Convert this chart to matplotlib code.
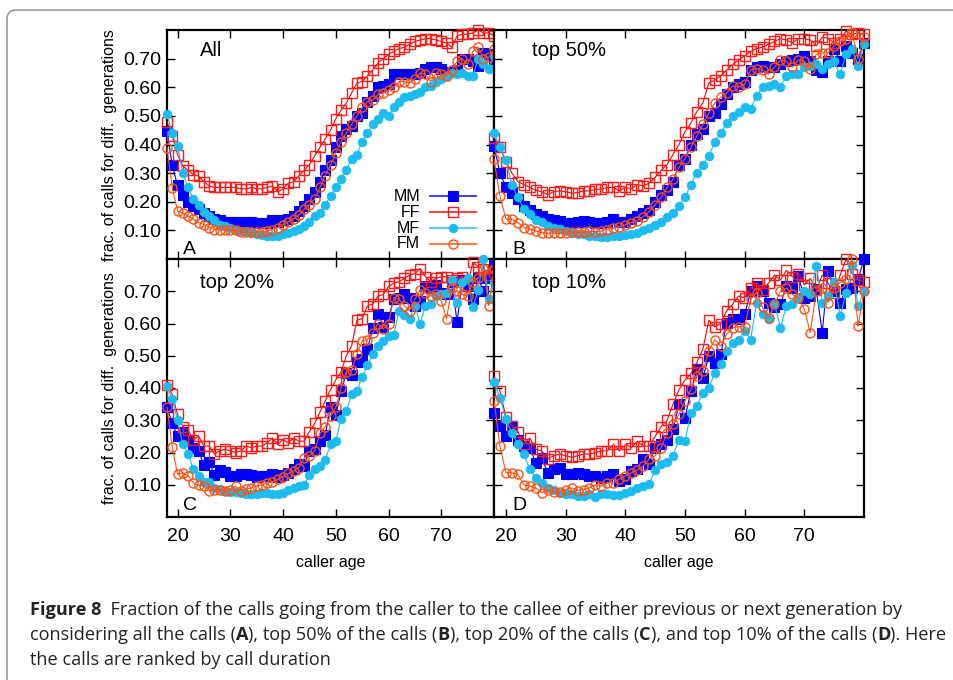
import matplotlib
matplotlib.use('Agg')
from matplotlib import pyplot as plt
from matplotlib import font_manager
from matplotlib.patches import FancyBboxPatch

ages = list(range(18, 81))

# panel A: all calls
mm_all = [.447, .327, .258, .224, .20, .185, .175, .16, .15, .14,
          .135, .13, .13, .128, .127, .13, .128, .126, .125, .125,
          .135, .13, .135, .14, .15, .168, .185, .21, .235, .27,
          .31, .345, .39, .43, .455, .465, .50, .51, .55, .57,
          .60, .605, .61, .645, .645, .645, .645, .645, .65, .665,
          .67, .67, .665, .655, .655, .66, .70, .70, .69, .675,
          .72, .715, .70]
ff_all = [.48, .43, .365, .325, .31, .295, .29, .27, .255, .25,
          .25, .25, .25, .25, .245, .245, .25, .245, .245, .25,
          .255, .235, .245, .265, .27, .29, .31, .33, .36, .39,
          .42, .45, .49, .52, .545, .58, .615, .62, .64, .66,
          .685, .70, .715, .725, .735, .74, .75, .76, .765, .77,
          .77, .765, .76, .755, .74, .78, .785, .785, .79, .80,
          .79, .79, .78]
mf_all = [.505, .44, .395, .30, .25, .21, .19, .165, .15, .135,
          .12, .115, .11, .103, .098, .097, .092, .087, .084, .08,
          .08, .082, .086, .092, .098, .105, .115, .13, .15, .16,
          .19, .22, .25, .28, .31, .35, .365, .41, .44, .47,
          .49, .51, .50, .53, .55, .565, .57, .575, .585, .60,
          .605, .62, .63, .64, .65, .645, .65, .64, .64, .70,
          .68, .665, .71]
fm_all = [.389, .249, .168, .16, .15, .138, .127, .12, .11, .103,
          .103, .10, .10, .10, .095, .093, .093, .093, .095, .098,
          .103, .11, .12, .13, .14, .155, .173, .19, .21, .25,
          .29, .33, .37, .41, .44, .47, .50, .53, .55, .555,
          .575, .58, .59, .60, .62, .62, .615, .63, .65, .645,
          .62, .65, .645, .64, .66, .69, .70, .68, .725, .74,
          .70, .705, .735]

# panel B: top 50%
mm_50 = [.395, .30, .25, .232, .21, .185, .17, .158, .15, .14,
         .135, .133, .127, .127, .13, .132, .13, .127, .126, .128,
         .138, .128, .13, .14, .15, .162, .17, .20, .225, .24,
         .27, .33, .35, .40, .435, .455, .50, .51, .54, .575,
         .60, .61, .62, .66, .67, .675, .67, .67, .68, .69,
         .695, .70, .71, .69, .66, .655, .69, .735, .69, .745,
         .72, .70, .755]
ff_50 = [.424, .39, .34, .30, .27, .26, .25, .24, .235, .225,
         .235, .238, .235, .23, .232, .238, .238, .243, .245, .25,
         .25, .238, .25, .245, .26, .255, .265, .285, .31, .33,
         .365, .40, .445, .475, .515, .545, .615, .625, .64, .66,
         .68, .695, .71, .725, .735, .74, .75, .76, .77, .765,
         .755, .77, .77, .765, .745, .775, .77, .755, .77, .795,
         .785, .79, .785]
mf_50 = [.44, .39, .345, .26, .215, .175, .158, .135, .13, .115,
         .11, .105, .098, .092, .088, .086, .08, .08, .078, .078,
         .079, .082, .085, .088, .092, .10, .108, .118, .13, .145,
         .16, .185, .215, .26, .30, .33, .36, .41, .44, .475,
         .50, .515, .53, .525, .57, .60, .605, .61, .60, .64,
         .645, .645, .67, .675, .68, .665, .68, .69, .645, .715,
         .735, .675, .75]
fm_50 = [.348, .22, .14, .138, .127, .11, .105, .098, .092, .09,
         .09, .09, .092, .093, .093, .093, .097, .095, .098, .103,
         .108, .113, .12, .127, .133, .148, .165, .19, .215, .25,
         .28, .32, .35, .39, .43, .47, .51, .545, .565, .58,
         .605, .60, .61, .66, .665, .66, .645, .67, .695, .69,
         .67, .695, .69, .665, .715, .72, .72, .745, .76, .77,
         .79, .70, .775]

# panel C: top 20%
mm_20 = [.34, .29, .25, .265, .24, .215, .205, .16, .17, .13,
         .145, .14, .128, .128, .133, .133, .13, .125, .127, .128,
         .133, .125, .13, .137, .15, .165, .158, .205, .21, .235,
         .255, .34, .315, .39, .445, .44, .48, .49, .52, .585,
         .63, .59, .62, .675, .68, .69, .68, .655, .67, .715,
         .71, .72, .695, .69, .73, .605, .735, .715, .675, .74,
         .70, .74, .78]
ff_20 = [.41, .38, .318, .28, .27, .24, .25, .22, .22, .195,
         .205, .21, .205, .20, .205, .22, .215, .22, .22, .23,
         .245, .225, .24, .23, .245, .235, .235, .265, .29, .325,
         .36, .395, .425, .45, .50, .53, .61, .615, .655, .66,
         .685, .69, .715, .725, .73, .74, .75, .755, .77, .745,
         .73, .74, .745, .745, .735, .74, .745, .72, .79, .775,
         .77, .75, .76]
mf_20 = [.405, .365, .30, .225, .195, .148, .127, .11, .11, .09,
         .086, .08, .078, .078, .075, .072, .072, .07, .075, .075,
         .072, .072, .075, .085, .09, .096, .10, .13, .148, .158,
         .178, .225, .235, .305, .33, .38, .39, .435, .47, .505,
         .53, .545, .56, .565, .64, .625, .615, .655, .60, .655,
         .66, .685, .69, .695, .735, .665, .73, .74, .65, .705,
         .80, .675, .73]
fm_20 = [.34, .217, .132, .137, .127, .106, .098, .096, .082, .085,
         .085, .08, .085, .095, .082, .087, .09, .096, .10, .105,
         .11, .117, .125, .135, .142, .153, .182, .19, .205, .26,
         .28, .313, .34, .40, .45, .455, .505, .545, .55, .57,
         .60, .583, .60, .68, .675, .655, .64, .675, .705, .695,
         .685, .69, .67, .615, .71, .70, .69, .685, .73, .74,
         .77, .655, .77]

# panel D: top 10%
mm_10 = [.323, .282, .25, .28, .24, .22, .215, .168, .184, .137,
         .148, .153, .132, .132, .137, .132, .127, .127, .122, .127,
         .132, .111, .117, .142, .148, .179, .163, .215, .225, .24,
         .272, .35, .308, .39, .458, .432, .50, .478, .504, .603,
         .613, .613, .628, .70, .716, .70, .665, .65, .66, .716,
         .71, .747, .68, .686, .706, .572, .763, .70, .665, .706,
         .71, .737, .80]
ff_10 = [.437, .39, .31, .282, .265, .225, .245, .21, .205, .18,
         .19, .195, .19, .185, .19, .195, .195, .20, .205, .205,
         .225, .205, .225, .215, .235, .22, .22, .25, .28, .30,
         .35, .395, .425, .445, .48, .52, .61, .59, .60, .64,
         .66, .685, .68, .71, .725, .705, .725, .75, .735, .765,
         .745, .755, .72, .74, .705, .75, .725, .695, .75, .80,
         .755, .735, .73]
mf_10 = [.42, .37, .303, .26, .225, .194, .148, .122, .106, .09,
         .085, .075, .072, .07, .065, .065, .07, .062, .07, .07,
         .068, .068, .075, .082, .09, .096, .103, .145, .163, .171,
         .19, .24, .235, .323, .344, .386, .40, .447, .473, .515,
         .54, .55, .577, .55, .665, .628, .613, .66, .587, .654,
         .66, .68, .70, .69, .778, .665, .685, .73, .623, .695,
         .78, .654, .70]
fm_10 = [.36, .22, .137, .137, .132, .10, .096, .09, .075, .085,
         .078, .078, .085, .09, .082, .085, .09, .10, .096, .106,
         .106, .117, .127, .137, .145, .158, .18, .19, .215, .26,
         .287, .318, .36, .396, .437, .453, .515, .55, .53, .567,
         .587, .59, .59, .675, .695, .65, .618, .66, .70, .71,
         .69, .68, .644, .572, .70, .71, .665, .71, .727, .737,
         .80, .592, .70]

series_names = ['MM', 'FF', 'MF', 'FM']
panel_titles = ['All', 'top 50%', 'top 20%', 'top 10%']
panel_letters = ['A', 'B', 'C', 'D']
panel_data = [[mm_all, ff_all, mf_all, fm_all],
              [mm_50, ff_50, mf_50, fm_50],
              [mm_20, ff_20, mf_20, fm_20],
              [mm_10, ff_10, mf_10, fm_10]]

styles = {
    'MM': dict(color='#0000ff', marker='s', ms=7, mfc='#0000ff', mec='#0000ff', mew=0.8),
    'FF': dict(color='#ff0000', marker='s', ms=7.5, mfc='none', mec='#ff1a1a', mew=1.0),
    'MF': dict(color='#1cbcf0', marker='o', ms=6.2, mfc='#1cbcf0', mec='#1cbcf0', mew=0.6),
    'FM': dict(color='#ff5014', marker='o', ms=6.5, mfc='none', mec='#ff5014', mew=1.0),
}

plt.rcParams['font.family'] = ['Liberation Sans', 'DejaVu Sans']

W, H = 954, 680
fig = plt.figure(figsize=(W / 100, H / 100), dpi=100)


def px_box(x0, y0, x1, y1):
    return [x0 / W, 1 - y1 / H, (x1 - x0) / W, (y1 - y0) / H]


boxes = [px_box(167, 30, 494, 259), px_box(494, 30, 864, 259),
         px_box(167, 259, 494, 517), px_box(494, 259, 864, 517)]

axes = []
for i, box in enumerate(boxes):
    ax = fig.add_axes(box)
    axes.append(ax)
    for name, vals in zip(series_names, panel_data[i]):
        ax.plot(ages, vals, lw=0.8, clip_on=False, zorder=3, **styles[name])
    ax.set_xlim(18, 80)
    ax.set_ylim(0, 0.8)
    ax.set_xticks([20, 30, 40, 50, 60, 70])
    ax.set_yticks([0.1, 0.2, 0.3, 0.4, 0.5, 0.6, 0.7])
    ax.set_yticklabels(['%.2f' % v for v in ax.get_yticks()])
    ax.tick_params(direction='in', top=True, right=True, length=6, width=1,
                   labelsize=14, pad=4, colors='black')
    ax.tick_params(axis='x', pad=8)
    for s in ax.spines.values():
        s.set_linewidth(1.6)
    if i % 2 == 1:
        ax.tick_params(labelleft=False)
    if i < 2:
        ax.tick_params(labelbottom=False)
    else:
        ax.set_xlabel('caller age', fontsize=11.5, labelpad=7)
    # panel title (top left) and panel letter (bottom left)
    ax.text(0.10 if i % 2 == 0 else 0.103, 0.91, panel_titles[i], transform=ax.transAxes,
            fontsize=14.5, ha='left', va='center')
    ax.text(0.05, 0.04 if i < 2 else 0.045, panel_letters[i],
            transform=ax.transAxes, fontsize=14, ha='left', va='center')

# legend in panel A, drawn like gnuplot's key
ax = axes[0]
key_rows = [0.275, 0.205, 0.135, 0.067]
for name, yk in zip(series_names, key_rows):
    st = styles[name]
    ax.plot([0.804, 0.945], [yk, yk], transform=ax.transAxes, color=st['color'],
            lw=1.4, alpha=0.75, clip_on=False, zorder=4)
    ax.plot([0.875], [yk], transform=ax.transAxes, ls='none', marker=st['marker'],
            ms=st['ms'], mfc=st['mfc'], mec=st['mec'], mew=st['mew'], clip_on=False, zorder=5)
    ax.text(0.774, yk, name, transform=ax.transAxes, ha='right', va='center', fontsize=11.5)

for yc in (145, 388):
    fig.text(110 / W, 1 - yc / H, 'frac. of calls for diff.  generations', rotation=90,
             ha='center', va='center', fontsize=11.5)

# outer frame
frame = FancyBboxPatch((7, -60), 1100, H - 10 + 60, boxstyle='round,pad=0,rounding_size=9',
                       transform=None, fill=False, edgecolor='#8a8a8a', lw=1.0)
fig.patches.append(frame)

# caption
names = {f.name for f in font_manager.fontManager.ttflist}
cap_font = 'Liberation Sans Narrow' if 'Liberation Sans Narrow' in names else 'Open Sans'
cap_lines = [
    [('Figure 8', True), ('  Fraction of the calls going from the caller to the callee of either previous or next generation by', False)],
    [('considering all the calls (', False), ('A', True), ('), top 50% of the calls (', False), ('B', True),
     ('), top 20% of the calls (', False), ('C', True), ('), and top 10% of the calls (', False), ('D', True),
     ('). Here', False)],
    [('the calls are ranked by call duration', False)],
]
cap_y = [608, 633, 658]

renderer = fig.canvas.get_renderer()


def line_width(parts, size):
    total = 0
    for txt, bold in parts:
        t = fig.text(0, 0, txt, fontsize=size, family=[cap_font, 'DejaVu Sans'],
                     weight='bold' if bold else 'normal')
        total += t.get_window_extent(renderer).width
        t.remove()
    return total


cap_size = 12.0
cap_size = cap_size * 913 / line_width(cap_lines[1], cap_size)

for parts, yc in zip(cap_lines, cap_y):
    x = 30
    for txt, bold in parts:
        t = fig.text(x / W, 1 - yc / H, txt, fontsize=cap_size, family=[cap_font, 'DejaVu Sans'],
                     weight='bold' if bold else 'normal', ha='left', va='center_baseline',
                     color='#222222')
        x += t.get_window_extent(renderer).width

fig.savefig('out.png', dpi=100)
